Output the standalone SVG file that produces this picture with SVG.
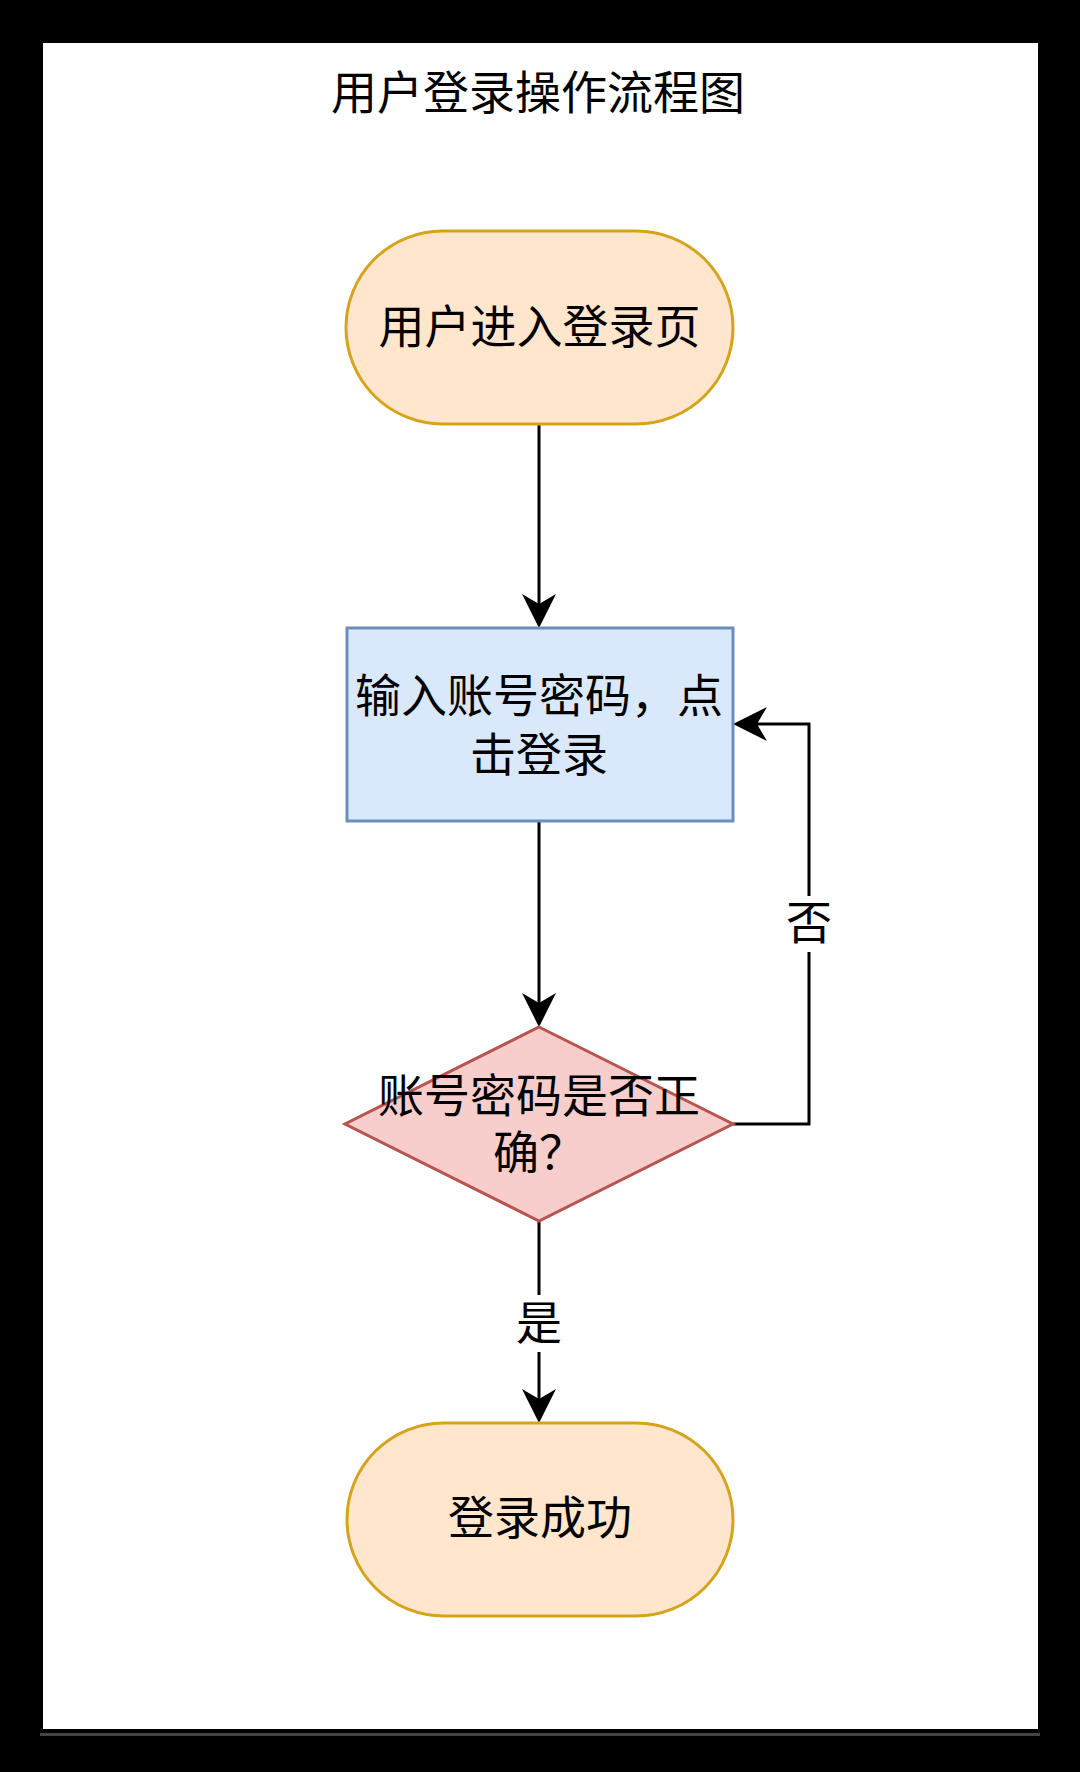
<svg xmlns="http://www.w3.org/2000/svg" width="1080" height="1772" viewBox="0 0 1080 1772">
  <style>
    .t { font-family: "Noto Sans CJK SC", "Noto Sans", sans-serif; font-size: 46px; fill: #000; text-anchor: middle; dominant-baseline: central; }
    .term { fill: #ffe6cc; stroke: #d6a31c; stroke-width: 3; }
    .proc { fill: #dae8fc; stroke: #6c8ebf; stroke-width: 3; }
    .dec { fill: #f8cecc; stroke: #b85450; stroke-width: 3; }
    .edge { fill: none; stroke: #000; stroke-width: 3; }
    .lblbg { fill: #fff; }
  </style>
  <defs>
    <marker id="arr" markerUnits="userSpaceOnUse" markerWidth="40" markerHeight="40" refX="0" refY="0" orient="auto" overflow="visible">
      <path d="M24,0 L-10,-17 L0,0 L-10,17 Z" fill="#000"/>
    </marker>
  </defs>
  <rect x="0" y="0" width="1080" height="1772" fill="#000"/>
  <rect x="43" y="43" width="995" height="1686" fill="#fff"/>
  <rect x="40" y="1733" width="1000" height="3" fill="#444"/>

  <g id="title">
    <text class="t" x="538" y="89">用户登录操作流程图</text>
  </g>

  <g id="connectors">
    <path class="edge" d="M539,424 V604" marker-end="url(#arr)"/>
    <path class="edge" d="M539,821 V1003" marker-end="url(#arr)"/>
    <path class="edge" d="M539,1221 V1399" marker-end="url(#arr)"/>
    <path class="edge" d="M733,1124 H809 V724 H757" marker-end="url(#arr)"/>
    <g id="label-no">
      <rect class="lblbg" x="787" y="896" width="44" height="56"/>
      <text class="t" x="809" y="919">否</text>
    </g>
    <g id="label-yes">
      <rect class="lblbg" x="517" y="1295" width="44" height="57"/>
      <text class="t" x="539" y="1319">是</text>
    </g>
  </g>

  <g id="node-start">
    <rect class="term" x="346" y="231" width="387" height="193" rx="96.5" ry="96.5"/>
    <text class="t" x="539.5" y="323">用户进入登录页</text>
  </g>

  <g id="node-input">
    <rect class="proc" x="347" y="628" width="386" height="193"/>
    <text class="t"><tspan x="539" y="692">输入账号密码，点</tspan><tspan x="539" y="751">击登录</tspan></text>
  </g>

  <g id="node-check">
    <polygon class="dec" points="539,1027 733,1124 539,1221 345,1124"/>
    <text class="t"><tspan x="539" y="1092">账号密码是否正</tspan><tspan x="539" y="1149">确？</tspan></text>
  </g>

  <g id="node-end">
    <rect class="term" x="347" y="1423" width="386" height="193" rx="96.5" ry="96.5"/>
    <text class="t" x="540" y="1514">登录成功</text>
  </g>
</svg>
